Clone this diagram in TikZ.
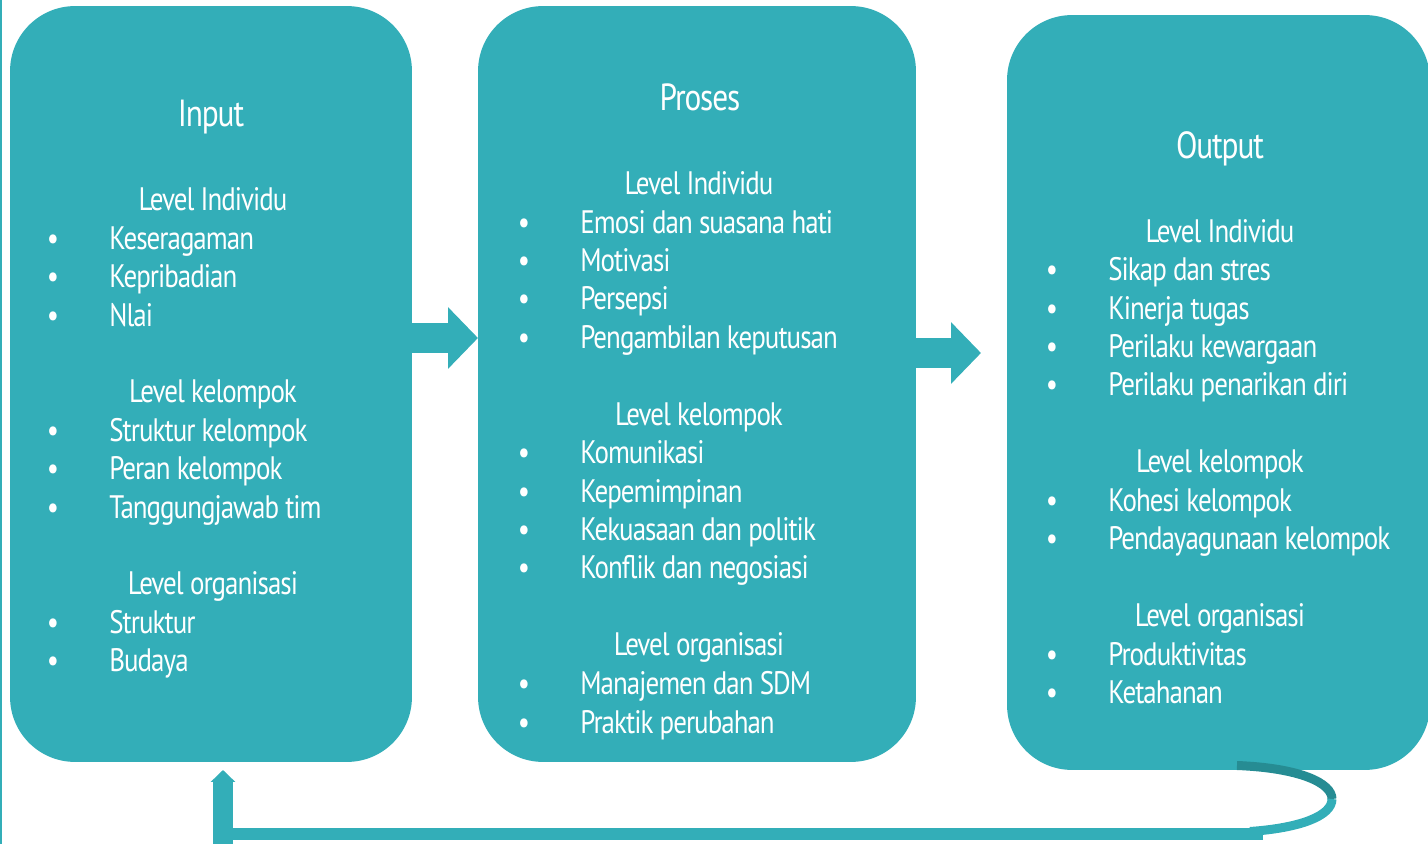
\documentclass[tikz,border=0pt]{standalone}
\usepackage{fontspec}
\setmainfont{PT Sans}[FakeStretch=0.83, LetterSpace=-3]
\usetikzlibrary{arrows.meta}
\definecolor{tosca}{RGB}{51,174,184}
\definecolor{toscagelap}{RGB}{38,140,147}

\begin{document}
\begin{tikzpicture}[x=0.02cm, y=-0.02cm, every node/.style={text=white, inner sep=0pt},
    kotak/.style={fill=tosca, rounded corners=1.3cm},
    panah/.style={draw=tosca, line width=6mm, -{Triangle[length=6mm, width=12mm]}},
    judul/.style={font=\fontsize{21.5}{24}\selectfont, anchor=base},
    level/.style={font=\fontsize{18.5}{22}\selectfont, anchor=base},
    butir/.style={font=\fontsize{18.5}{22}\selectfont, anchor=base west}]
  \useasboundingbox (0,0) rectangle (1428,844);
  % garis tipis di tepi kiri
  \draw[tosca, line width=0.4mm] (1,0) -- (1,844);

  % ==================== tiga kotak ====================
  \node[kotak, minimum width=8.04cm, minimum height=15.12cm] (input) at (211,384) {};
  \node[kotak, minimum width=8.76cm, minimum height=15.12cm] (proses) at (697,384) {};
  \node[kotak, minimum width=8.46cm, minimum height=15.1cm] (output) at (1218.5,392.5) {};

  % ==================== panah antar kotak ====================
  \coordinate (ujung1) at (478,338);
  \coordinate (ujung2) at (981,353);
  \draw[panah] (input.east |- ujung1) -- (ujung1);
  \draw[panah] (proses.east |- ujung2) -- (ujung2);

  % ==================== umpan balik output -> input ====================
  \coordinate (putar) at (1332,799);
  \coordinate (balik) at (1263,834);
  \draw[toscagelap, line width=1.8mm] (1237,765.5) .. controls (1300,768) and (1332,783) .. (putar);
  \draw[tosca, line width=1.8mm] (putar) .. controls (1332,816) and (1300,828) .. (1250,831.5);
  \draw[tosca, line width=2.4mm] (balik) -- (213,834);
  \draw[tosca, line width=4mm, -{Triangle[length=2.4mm, width=4.8mm]}] (223,844) -- (223,770);

  % ==================== teks kotak input ====================
  \node[judul] (t-input) at (211,127) {Input};
  \foreach \teks/\yy in {Level Individu/211, Level kelompok/403, Level organisasi/595}
    \node[level] (li-\yy) at (213,\yy) {\teks};
  \foreach \teks/\yy in {Keseragaman/250, Kepribadian/288, Nlai/327, Struktur kelompok/442,
      Peran kelompok/480, Tanggungjawab tim/519, Struktur/634, Budaya/672} {
    \node[level] (bi-\yy) at (53,\yy) {\textbullet};
    \node[butir] (ti-\yy) at (109,\yy) {\teks};
  }

  % ==================== teks kotak proses ====================
  \node[judul] (t-proses) at (700,111) {Proses};
  \foreach \teks/\yy in {Level Individu/195, Level kelompok/426, Level organisasi/656}
    \node[level] (lp-\yy) at (699,\yy) {\teks};
  \foreach \teks/\yy in {Emosi dan suasana hati/234, Motivasi/272, Persepsi/310,
      Pengambilan keputusan/349, Komunikasi/464, Kepemimpinan/503,
      Kekuasaan dan politik/541, Konflik dan negosiasi/579,
      Manajemen dan SDM/695, Praktik perubahan/733} {
    \node[level] (bp-\yy) at (524,\yy) {\textbullet};
    \node[butir] (tp-\yy) at (580,\yy) {\teks};
  }

  % ==================== teks kotak output ====================
  \node[judul] (t-output) at (1220,159) {Output};
  \foreach \teks/\yy in {Level Individu/243, Level kelompok/473, Level organisasi/627}
    \node[level] (lo-\yy) at (1220,\yy) {\teks};
  \foreach \teks/\yy in {Sikap dan stres/281, Kinerja tugas/320, Perilaku kewargaan/358,
      Perilaku penarikan diri/396, Kohesi kelompok/512, Pendayagunaan kelompok/550,
      Produktivitas/665, Ketahanan/704} {
    \node[level] (bo-\yy) at (1052,\yy) {\textbullet};
    \node[butir] (to-\yy) at (1108,\yy) {\teks};
  }
\end{tikzpicture}
\end{document}
